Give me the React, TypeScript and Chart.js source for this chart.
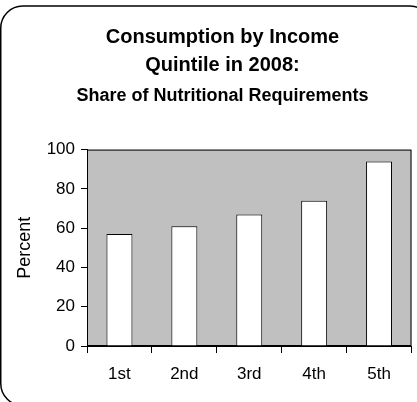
import React, { useEffect, useRef } from "react";
import { Chart, registerables } from "chart.js";

Chart.register(...registerables);

const titleLines = ["Consumption by Income", "Quintile in 2008:"];
const subtitleText = "Share of Nutritional Requirements";
const categories = ["1st", "2nd", "3rd", "4th", "5th"];
const values = [57, 61, 67, 74, 94];
const yAxisTitle = "Percent";
const yMin = 0;
const yMax = 100;
const yStep = 20;

const FONT = "'Liberation Sans', Arial, Helvetica, sans-serif";

const framePlugin = {
  id: "framePlugin",
  beforeDraw(chart: any) {
    const { ctx, chartArea } = chart;
    ctx.save();
    ctx.strokeStyle = "#000000";
    ctx.lineWidth = 1.5;
    ctx.beginPath();
    ctx.moveTo(80, 405.5);
    ctx.lineTo(22.75, 405.5);
    ctx.arcTo(0.75, 405.5, 0.75, 383.5, 22);
    ctx.lineTo(0.75, 28);
    ctx.arcTo(0.75, 6, 22.75, 6, 22);
    ctx.lineTo(410, 6);
    ctx.arcTo(432, 6, 432, 28, 22);
    ctx.lineTo(432, 402);
    ctx.stroke();
    ctx.fillStyle = "#c0c0c0";
    ctx.fillRect(chartArea.left, chartArea.top, chartArea.right - chartArea.left, chartArea.bottom - chartArea.top);
    ctx.strokeStyle = "#000";
    ctx.lineWidth = 1;
    ctx.strokeRect(chartArea.left + 0.5, chartArea.top + 0.5, chartArea.right - chartArea.left - 1, chartArea.bottom - chartArea.top - 1);
    ctx.restore();
  },
};

export default function App() {
  const ref = useRef<HTMLCanvasElement | null>(null);
  useEffect(() => {
    document.body.style.margin = "0";
    const canvas = ref.current;
    if (!canvas) return;
    const chart = new Chart(canvas, {
      type: "bar",
      data: {
        labels: categories,
        datasets: [
          {
            data: values,
            yAxisID: "y",
            backgroundColor: "#ffffff",
            borderColor: "#000000",
            borderWidth: 1,
            barPercentage: 0.4,
            categoryPercentage: 1,
          },
        ],
      },
      options: {
        responsive: false,
        animation: false,
        layout: { padding: { left: 0, right: 0, top: 0, bottom: 6.6 } },
        plugins: {
          legend: { display: false },
          tooltip: { enabled: false },
          title: {
            display: true,
            text: titleLines,
            color: "#000",
            font: { family: FONT, size: 20, weight: "bold", lineHeight: 1.4 },
            padding: { top: 23, bottom: 6.4 },
          },
          subtitle: {
            display: true,
            text: subtitleText,
            color: "#000",
            font: { family: FONT, size: 18, weight: "bold", lineHeight: 1.2 },
            padding: { top: 0, bottom: 42.6 },
          },
        },
        scales: {
          x: {
            grid: {
              display: true,
              offset: true,
              drawOnChartArea: false,
              drawTicks: true,
              tickLength: 7,
              color: "#000",
            },
            border: { display: true, color: "#000", width: 1 },
            ticks: { color: "#000", font: { family: FONT, size: 17 }, padding: 11 },
          },
          y: {
            min: yMin,
            max: yMax,
            position: "left",
            afterFit(scale: any) {
              scale.width = 87;
            },
            grid: {
              display: true,
              drawOnChartArea: false,
              drawTicks: true,
              tickLength: 6,
              color: "#000",
            },
            border: { display: true, color: "#000", width: 1 },
            ticks: { stepSize: yStep, color: "#000", font: { family: FONT, size: 17 }, padding: 6 },
            title: {
              display: true,
              text: yAxisTitle,
              color: "#000",
              font: { family: FONT, size: 18 },
              padding: { top: 14, bottom: 0 },
            },
          },
          yRight: {
            position: "right",
            display: true,
            afterFit(scale: any) {
              scale.width = 33.5;
            },
            grid: { display: false, drawTicks: false },
            border: { display: false },
            ticks: { display: false },
          },
        },
      },
      plugins: [framePlugin],
    });
    return () => chart.destroy();
  }, []);
  return (
    <div style={{ width: 417, height: 402, overflow: "hidden", position: "relative" }}>
      <canvas ref={ref} width={445} height={402} style={{ display: "block" }} />
    </div>
  );
}
